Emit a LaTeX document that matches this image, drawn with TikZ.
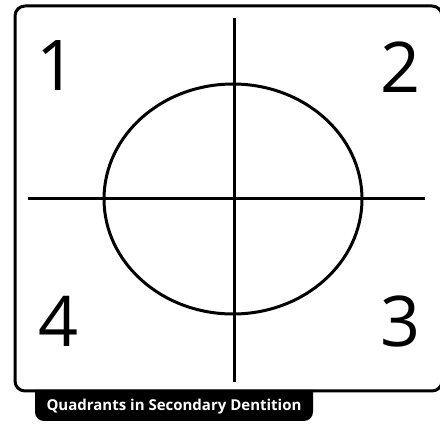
\documentclass[tikz,border=0pt]{standalone}
\usepackage{fontspec}
\setmainfont{Open Sans}
\tikzset{
  quadnum/.style={inner sep=0pt, font=\fontsize{70}{84}\selectfont},
  frameline/.style={line width=3pt, color=black},
  axisline/.style={line width=3pt, color=black}
}
\begin{document}
\begin{tikzpicture}[x=1pt,y=1pt,yscale=-1,xscale=1]
  \useasboundingbox (0,0) rectangle (440,425);
  %Shape: Label tab
  \fill [black] (35,390) -- (35,412) arc [start angle=180, end angle=90, radius=9] -- (304,421) arc [start angle=90, end angle=0, radius=9] -- (313,390) -- cycle ;
  %Shape: Frame
  \draw [frameline, rounded corners=10pt] (15,6) rectangle (442,391) ;
  %Shape: Ellipse
  \draw [axisline] (233,199) ellipse [x radius=129, y radius=115] ;
  \coordinate (top) at (234,18) ;
  \coordinate (bottom) at (234,382) ;
  \coordinate (left) at (28,199) ;
  \coordinate (right) at (425,199) ;
  \draw [axisline] (top) -- (bottom) ;
  \draw [axisline] (left) -- (right) ;
  \draw (57,66) node [quadnum] (q1) {1};
  \draw (401,67) node [quadnum] (q2) {2};
  \draw (401,321) node [quadnum] (q3) {3};
  \draw (59,321) node [quadnum] (q4) {4};
  \draw (174,407) node [inner sep=0pt, text=white, font=\fontsize{15}{18}\selectfont\bfseries] (caption) {Quadrants in Secondary Dentition};
\end{tikzpicture}
\end{document}
